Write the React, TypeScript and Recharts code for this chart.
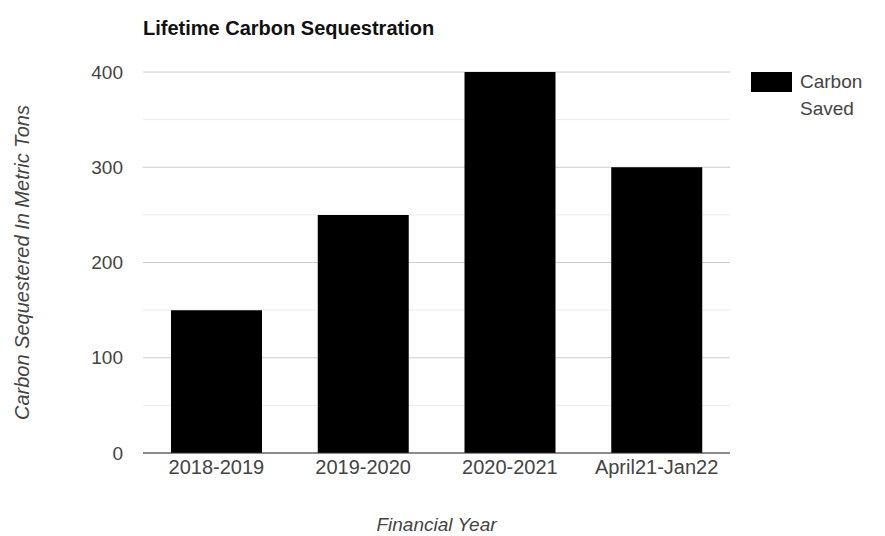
import { BarChart, Bar, XAxis, YAxis, CartesianGrid } from 'recharts'

const years = ['2018-2019', '2019-2020', '2020-2021', 'April21-Jan22']
const carbonSaved = [150, 250, 400, 300]
const majorTicks = [0, 100, 200, 300, 400]
const minorTicks = [50, 150, 250, 350]

const FONT = '"Liberation Sans", Arial, sans-serif'

function LegendBox() {
  return (
    <div
      style={{
        position: 'absolute',
        left: 751,
        top: 68,
        display: 'flex',
        alignItems: 'flex-start',
        fontFamily: FONT,
      }}
    >
      <div style={{ width: 41, height: 20, background: '#000', marginTop: 4 }} />
      <div style={{ marginLeft: 8, fontSize: 19, lineHeight: '27px', color: '#444', width: 80 }}>
        Carbon
        <br />
        Saved
      </div>
    </div>
  )
}

export default function App() {
  const data = years.map((name, i) => ({ name, value: carbonSaved[i] }))

  return (
    <div style={{ position: 'fixed', left: 0, top: 0, width: 885, height: 536, background: '#fff' }}>
      <div
        style={{
          position: 'absolute',
          left: 143,
          top: 17,
          fontFamily: FONT,
          fontWeight: 'bold',
          fontSize: 20,
          color: '#111',
        }}
      >
        Lifetime Carbon Sequestration
      </div>
      <LegendBox />
      <BarChart
        width={885}
        height={536}
        data={data}
        margin={{ top: 72, right: 155, left: 83, bottom: 53 }}
        barCategoryGap={28}
        style={{ fontFamily: FONT }}
      >
        <CartesianGrid vertical={false} horizontalValues={minorTicks} stroke="#ebebeb" />
        <CartesianGrid vertical={false} horizontalValues={majorTicks} stroke="#cccccc" />
        <XAxis
          dataKey="name"
          height={30}
          tickLine={false}
          tickSize={0}
          tickMargin={7}
          axisLine={{ stroke: '#333' }}
          tick={{ fill: '#444', fontSize: 20 }}
          label={{
            value: 'Financial Year',
            position: 'insideBottom',
            dy: 53,
            fill: '#444',
            fontSize: 19,
            fontStyle: 'italic',
          }}
        />
        <YAxis
          width={60}
          domain={[0, 400]}
          ticks={majorTicks}
          tickLine={false}
          axisLine={false}
          tickSize={0}
          tickMargin={20}
          tick={{ fill: '#444', fontSize: 19 }}
          label={{
            value: 'Carbon Sequestered In Metric Tons',
            angle: -90,
            position: 'center',
            dx: -91,
            fill: '#444',
            fontSize: 20,
            fontStyle: 'italic',
          }}
        />
        <Bar dataKey="value" name="Carbon Saved" fill="#000" isAnimationActive={false} />
      </BarChart>
    </div>
  )
}
